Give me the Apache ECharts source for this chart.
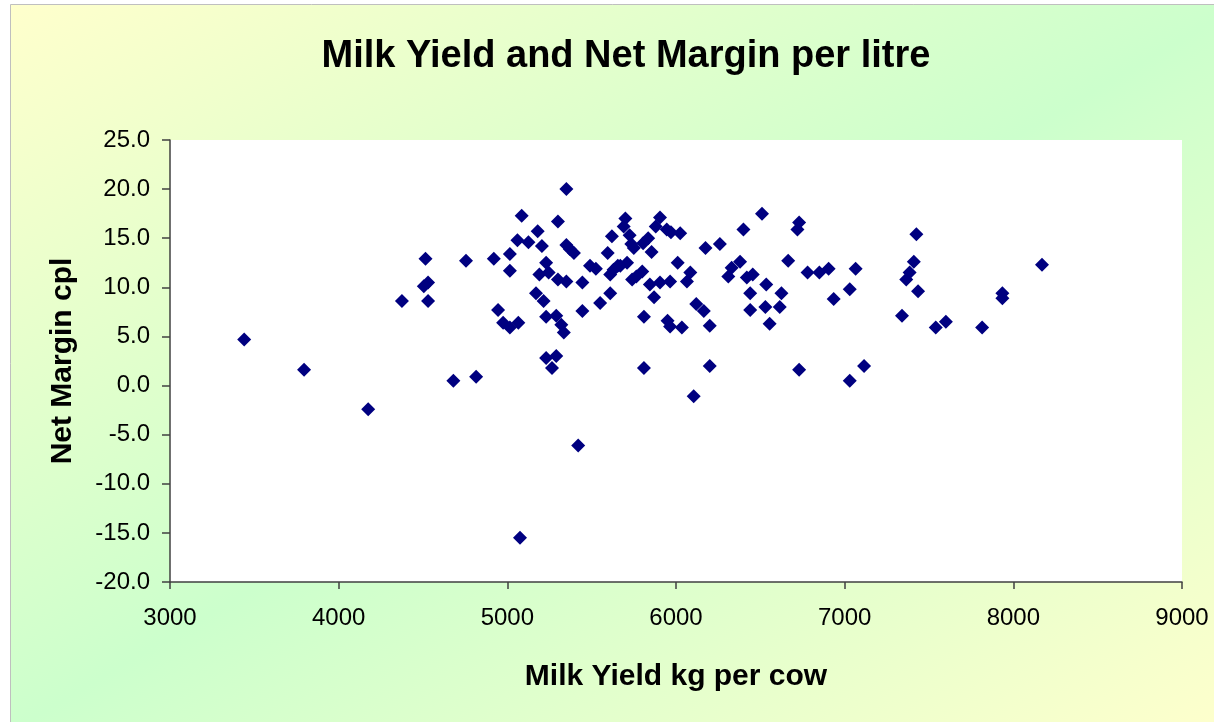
<!DOCTYPE html>
<html>
<head>
<meta charset="utf-8">
<script src="https://cdn.jsdelivr.net/npm/echarts@6/dist/echarts.min.js"></script>
<style>html,body{margin:0;padding:0;background:#fff}#c{width:1214px;height:722px}</style>
</head>
<body>
<div id="c"></div>
<script>
var titleText = 'Milk Yield and Net Margin per litre';
var xName = 'Milk Yield kg per cow';
var yName = 'Net Margin cpl';
var xTicks = [3000, 4000, 5000, 6000, 7000, 8000, 9000];
var yTicks = [-20, -15, -10, -5, 0, 5, 10, 15, 20, 25];

// Milk yield (kg per cow)
var milkYield = [
  3440, 3795, 4175, 4515, 4755, 4920, 4530, 4505, 4375, 4530, 4945, 4975, 4680, 4815, 5420, 5075,
  5350, 5085, 5300, 5180, 5060, 5125, 5205, 5015, 5015, 5015, 5065, 5350, 5370, 5395, 5230, 5190,
  5245, 5300, 5350, 5445, 5490, 5525, 5595, 5620, 5610, 5630, 5655, 5670, 5710, 5700, 5690, 5725,
  5735, 5750, 5805, 5835, 5855, 5905, 5880, 5945, 5970, 6025, 5740, 5765, 5800, 5845, 5905, 5965,
  6010, 6085, 6065, 5870, 5610, 5550, 5170, 5215, 5445, 5230, 5290, 5320, 5335, 5810, 5950, 5965,
  6035, 6120, 6165, 6200, 6175, 6260, 6400, 6510, 6730, 6720, 6665, 6780, 6850, 6330, 6380, 6310,
  6420, 6455, 6535, 6440, 6625, 6440, 6530, 6615, 6555, 5230, 5290, 5265, 5810, 6200, 6730, 6105,
  7425, 6905, 7065, 7030, 6935, 7410, 7385, 7365, 7435, 7340, 7540, 7600, 7815, 7935, 7935, 8170,
  7030, 7115
];
// Net margin (cpl)
var netMargin = [
  4.7, 1.6, -2.4, 12.9, 12.7, 12.9, 10.5, 10.1, 8.6, 8.6, 7.7, 6.4, 0.5, 0.9, -6.1, -15.5,
  20.0, 17.3, 16.7, 15.7, 14.8, 14.6, 14.2, 13.4, 11.7, 5.9, 6.4, 14.3, 13.9, 13.5, 12.5, 11.3,
  11.5, 10.8, 10.6, 10.5, 12.2, 11.9, 13.5, 15.2, 11.3, 11.8, 12.2, 12.2, 12.5, 17.0, 16.2, 15.3,
  14.4, 14.0, 14.5, 15.0, 13.6, 17.1, 16.2, 15.9, 15.6, 15.5, 10.8, 11.1, 11.6, 10.3, 10.5, 10.6,
  12.5, 11.5, 10.6, 9.0, 9.4, 8.4, 9.4, 8.6, 7.6, 7.0, 7.1, 6.2, 5.4, 7.0, 6.6, 6.0,
  5.9, 8.3, 7.6, 6.1, 14.0, 14.4, 15.9, 17.5, 16.6, 15.9, 12.7, 11.5, 11.5, 12.0, 12.6, 11.1,
  11.0, 11.3, 10.3, 9.4, 9.4, 7.7, 8.0, 8.0, 6.3, 2.8, 3.0, 1.8, 1.8, 2.0, 1.6, -1.1,
  15.4, 11.9, 11.9, 9.8, 8.8, 12.6, 11.5, 10.8, 9.6, 7.1, 5.9, 6.5, 5.9, 9.4, 8.9, 12.3,
  0.5, 2.0
];

var points = milkYield.map(function (x, i) { return [x, netMargin[i]]; });
var FONT = '"Liberation Sans", Arial, sans-serif';

var W = 1204, H = 718;
var s2 = H * H + W * W;

var chart = echarts.init(document.getElementById('c'), null, { renderer: 'canvas' });
chart.setOption({
  animation: false,
  backgroundColor: '#ffffff',
  graphic: [
    {
      type: 'rect', z: -100, silent: true,
      shape: { x: 10.5, y: 4.5, width: 1214, height: 730 },
      style: {
        fill: {
          type: 'linear', x: 0, y: 0, x2: 2 * H * H / s2, y2: 2 * W * W / s2,
          colorStops: [
            { offset: 0, color: '#FFFFCC' },
            { offset: 0.5, color: '#CCFFCC' },
            { offset: 1, color: '#FFFFCC' }
          ]
        },
        stroke: '#BFBFBF', lineWidth: 1
      }
    }
  ],
  title: {
    text: titleText,
    left: 621, top: 33, textAlign: 'center',
    textStyle: { fontFamily: FONT, fontSize: 38, fontWeight: 'bold', color: '#000' }
  },
  grid: {
    left: 170, right: 32, top: 140, bottom: 140,
    show: true, backgroundColor: '#ffffff', borderWidth: 0
  },
  xAxis: {
    type: 'value', min: xTicks[0], max: xTicks[xTicks.length - 1], interval: 1000,
    name: xName, nameLocation: 'middle', nameGap: 80,
    nameTextStyle: { fontFamily: FONT, fontSize: 30, fontWeight: 'bold', color: '#000' },
    axisLine: { show: true, onZero: false, lineStyle: { color: '#404040', width: 1.5 } },
    axisTick: { show: true, inside: false, length: 7, lineStyle: { color: '#404040', width: 1.5 } },
    splitLine: { show: false },
    axisLabel: {
      fontFamily: FONT, fontSize: 24, color: '#000', margin: 24,
      formatter: function (v) { return String(v); }
    }
  },
  yAxis: {
    type: 'value', min: yTicks[0], max: yTicks[yTicks.length - 1], interval: 5,
    name: yName, nameLocation: 'middle', nameGap: 92,
    nameTextStyle: { fontFamily: FONT, fontSize: 30, fontWeight: 'bold', color: '#000' },
    axisLine: { show: true, onZero: false, lineStyle: { color: '#404040', width: 1.5 } },
    axisTick: { show: true, inside: false, length: 8, lineStyle: { color: '#404040', width: 1.5 } },
    splitLine: { show: false },
    axisLabel: {
      fontFamily: FONT, fontSize: 24, color: '#000', margin: 20,
      formatter: function (v) { return v.toFixed(1); }
    }
  },
  series: [{
    type: 'scatter',
    data: points,
    symbol: 'diamond',
    symbolSize: 14,
    itemStyle: { color: '#000080', opacity: 1 }
  }]
});
</script>
</body>
</html>
